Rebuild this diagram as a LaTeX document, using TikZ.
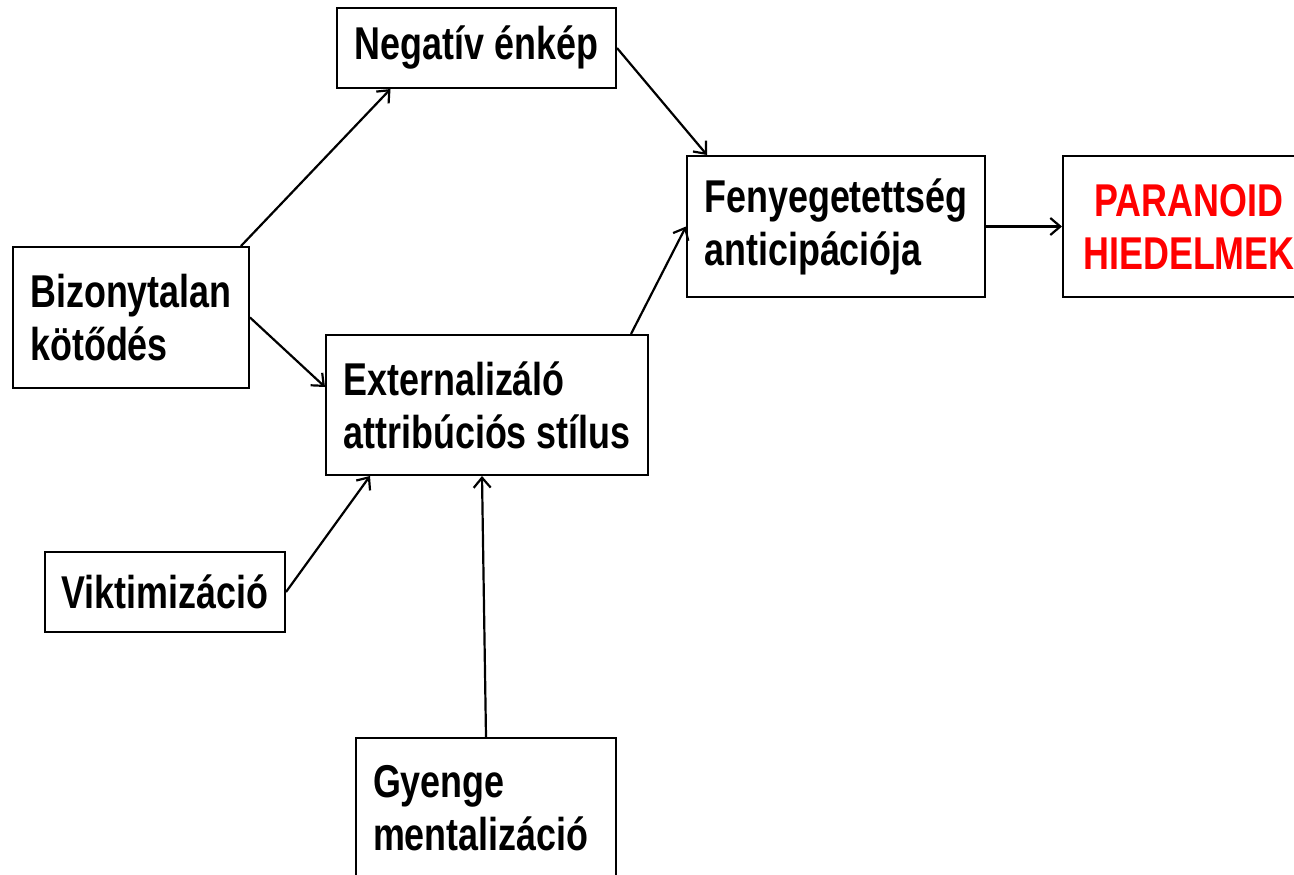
\documentclass[tikz,border=0pt]{standalone}
\usepackage{fontspec}
\setmainfont{Liberation Sans}[FakeStretch=0.78]
\usetikzlibrary{arrows.meta}
\begin{document}
\begin{tikzpicture}[x=1pt,y=-1pt,
    blk/.style={draw, line width=2pt, align=left, inner xsep=0pt,
      font=\fontsize{46}{53}\selectfont\bfseries},
    link/.style={line width=2.2pt, -{Straight Barb[length=10pt,width=17pt]}}]
    \clip (0,0) rectangle (1294,875);
    % boxes
    \node[blk, minimum width=279pt, minimum height=80pt] (neg) at (476.5,48) {Negatív énkép};
    \node[blk, minimum width=298pt, minimum height=141pt] (feny) at (836,226.5) {Fenyegetettség\\anticipációja};
    \node[blk, minimum width=252pt, minimum height=141pt, align=center, text=red] (para) at (1189,226.5) {PARANOID\\HIEDELMEK};
    \node[blk, minimum width=236pt, minimum height=141pt] (biz) at (131,317.5) {Bizonytalan\\kötődés};
    \node[blk, minimum width=322pt, minimum height=140pt] (ext) at (487,405) {Externalizáló\\attribúciós stílus};
    \node[blk, minimum width=240pt, minimum height=80pt] (vik) at (165,592) {Viktimizáció};
    \node[blk, text width=226pt, inner xsep=17pt, minimum height=141pt] (gye) at (486,808.5) {Gyenge\\mentalizáció};
    % arrows
    \draw[link] ([xshift=-9pt]biz.north east) -- ([xshift=-86pt]neg.south);
    \draw[link] (neg.east) -- ([xshift=21pt]feny.north west);
    \draw[link] (biz.east) -- ([yshift=18pt]ext.west);
    \draw[link] ([xshift=-18pt]ext.north east) -- (feny.west);
    \draw[link] (feny.east) -- (para.west);
    \draw[link] (vik.east) -- ([xshift=45pt]ext.south west);
    \draw[link] (gye.north) -- ([xshift=-5pt]ext.south);
\end{tikzpicture}
\end{document}
